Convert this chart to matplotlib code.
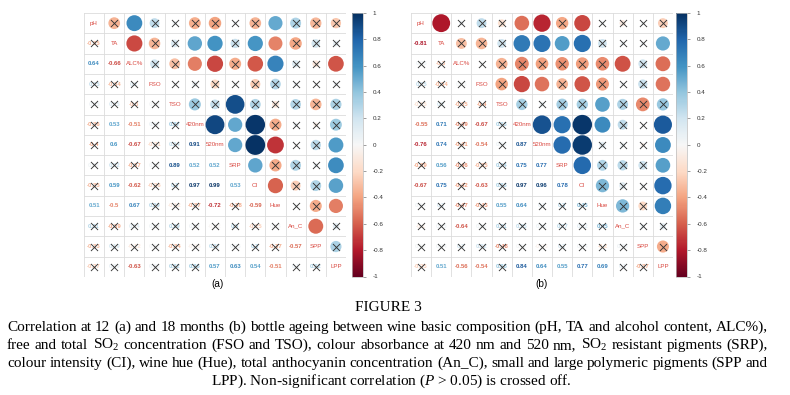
import numpy as np
import matplotlib
matplotlib.use("Agg")
import matplotlib.pyplot as plt
from matplotlib.patches import Circle
from matplotlib.colors import Normalize
from matplotlib.cm import ScalarMappable

plt.rcParams['mathtext.fontset'] = 'custom'
plt.rcParams['mathtext.rm'] = 'Liberation Serif'
plt.rcParams['mathtext.it'] = 'Liberation Serif:italic'

variables = ["pH", "TA", "ALC%", "FSO", "TSO", "420nm", "520nm", "SRP", "CI", "Hue", "An_C", "SPP", "LPP"]

# lower-triangle correlations, row i holds r(i, j) for j < i
corr_12m = [
    [],
    [-0.35],
    [0.64, -0.66],
    [0.25, -0.34, 0.20],
    [0.05, 0.15, -0.30, 0.02],
    [-0.36, 0.53, -0.51, 0.07, 0.37],
    [-0.40, 0.60, -0.67, -0.21, 0.24, 0.91],
    [0.04, 0.22, -0.37, 0.03, 0.89, 0.52, 0.52],
    [-0.35, 0.59, -0.62, -0.26, 0.30, 0.97, 0.99, 0.53],
    [0.51, -0.50, 0.67, 0.29, -0.12, -0.37, -0.72, -0.38, -0.59],
    [0.31, -0.39, 0.14, 0.04, 0.29, 0.05, -0.02, 0.30, -0.25, 0.03],
    [-0.33, 0.19, -0.12, 0.02, -0.34, -0.06, 0.27, 0.05, 0.30, -0.37, -0.57],
    [-0.27, 0.09, -0.63, 0.05, 0.32, 0.36, 0.57, 0.63, 0.54, -0.51, 0.10, 0.32],
]

corr_18m = [
    [],
    [-0.81],
    [0.05, -0.30],
    [0.25, -0.34, 0.03],
    [-0.15, 0.20, -0.35, -0.40],
    [-0.55, 0.71, -0.49, -0.67, 0.33],
    [-0.76, 0.74, -0.41, -0.54, 0.06, 0.87],
    [-0.39, 0.56, -0.46, -0.35, 0.34, 0.75, 0.77],
    [-0.67, 0.75, -0.42, -0.63, 0.33, 0.97, 0.96, 0.78],
    [0.04, 0.20, -0.47, -0.43, 0.55, 0.64, 0.10, 0.30, 0.45],
    [-0.10, 0.05, -0.64, 0.04, 0.31, 0.25, 0.06, 0.27, 0.12, 0.45],
    [0.03, 0.04, 0.20, 0.22, -0.48, 0.02, -0.05, 0.20, 0.04, -0.20, 0.05],
    [-0.25, 0.51, -0.56, -0.54, 0.38, 0.84, 0.64, 0.55, 0.77, 0.69, 0.10, -0.37],
]

r_critical = 0.50  # |r| at P = 0.05

panel_labels = ["(a)", "(b)"]
cbar_ticks = [1, 0.8, 0.6, 0.4, 0.2, 0, -0.2, -0.4, -0.6, -0.8, -1]

caption_title = "FIGURE 3"
caption_lines = [
    "Correlation at 12 (a) and 18 months (b) bottle ageing between wine basic composition (pH, TA and alcohol content, ALC%),",
    "free and total SO$_2$ concentration (FSO and TSO), colour absorbance at 420 nm and 520 nm, SO$_2$ resistant pigments (SRP),",
    "colour intensity (CI), wine hue (Hue), total anthocyanin concentration (An_C), small and large polymeric pigments (SPP and",
    "LPP). Non-significant correlation ($\\mathit{P}$ > 0.05) is crossed off.",
]

W, H = 790, 395
fig = plt.figure(figsize=(W / 100, H / 100), dpi=100)
fig.patch.set_facecolor('white')

cmap = plt.get_cmap('RdBu')
norm = Normalize(-1, 1)
n = len(variables)


def full_matrix(lower):
    m = np.eye(n)
    for i, row in enumerate(lower):
        for j, v in enumerate(row):
            m[i, j] = v
            m[j, i] = v
    return m


def fmt(v):
    s = f"{v:.2f}".rstrip('0').rstrip('.')
    return s


def draw_panel(x0, y0, size_w, size_h, lower, label, label_x, cbx):
    ax = fig.add_axes([x0 / W, 1 - (y0 + size_h) / H, size_w / W, size_h / H])
    m = full_matrix(lower)
    ax.set_xlim(-0.5, n - 0.5)
    ax.set_ylim(n - 0.5, -0.5)
    ax.axis('off')
    for k in range(n + 1):
        ax.plot([k - 0.5, k - 0.5], [-0.5, n - 0.5], color='#dcdcdc', lw=0.6, zorder=0)
        ax.plot([-0.5, n - 0.5], [k - 0.5, k - 0.5], color='#dcdcdc', lw=0.6, zorder=0)
    cross_x, cross_y = [], []
    for i in range(n):
        for j in range(n):
            v = m[i, j]
            if i == j:
                ax.text(j, i, variables[i], ha='center', va='center', color='#d9473f',
                        fontsize=4.4, family='Liberation Sans')
                continue
            col = cmap(norm(v))
            if j > i:
                rad = 0.5 * np.sqrt(abs(v)) * 0.98
                ax.add_patch(Circle((j, i), rad, facecolor=col, edgecolor='none', zorder=2))
            else:
                ax.text(j, i, fmt(v), ha='center', va='center', color=col,
                        fontsize=4.3, family='Liberation Sans', fontweight='bold', zorder=2)
            if abs(v) < r_critical:
                cross_x.append(j)
                cross_y.append(i)
    ax.scatter(cross_x, cross_y, marker='x', s=26, c='#333333', linewidths=0.65, zorder=3)
    fig.text(label_x / W, 1 - 284 / H, label, ha='center', va='center', fontsize=7.2,
             family='Liberation Sans')
    # colorbar
    cax = fig.add_axes([cbx / W, 1 - 276.5 / H, 11 / W, 263.5 / H])
    cb = fig.colorbar(ScalarMappable(norm=norm, cmap=cmap), cax=cax)
    cb.set_ticks(cbar_ticks)
    cb.set_ticklabels([fmt(t) if t != 0 else "0" for t in cbar_ticks])
    cb.outline.set_edgecolor('#bbbbbb')
    cb.outline.set_linewidth(0.5)
    cax.tick_params(labelsize=4.5, length=2, width=0.5, color='#777777',
                    labelcolor='#333333', pad=5)
    for t in cax.get_yticklabels():
        t.set_family('Liberation Sans')
    return ax


draw_panel(84, 13, 262, 264, corr_12m, panel_labels[0], 217, 352)
draw_panel(411, 13, 262, 264, corr_18m, panel_labels[1], 541, 676)

# caption
serif = 'Liberation Serif'
left, right = 7, 768
fig.canvas.draw()
renderer = fig.canvas.get_renderer()
probe = fig.text(0, 0, caption_lines[0], fontsize=10, family=serif)
natural = probe.get_window_extent(renderer).width
probe.remove()
fs = 10 * (right - left - 2) / natural

fig.text(388 / W, 1 - 311 / H, caption_title, ha='center', va='baseline', fontsize=fs, family=serif)

baselines = [331, 349, 367, 385]
for li, (line, yb) in enumerate(zip(caption_lines, baselines)):
    if li == len(caption_lines) - 1:
        fig.text(391 / W, 1 - yb / H, line, ha='center', va='baseline', fontsize=fs, family=serif)
        continue
    words = line.split(' ')
    texts = [fig.text(0, 1 - yb / H, w_, ha='left', va='baseline', fontsize=fs, family=serif)
             for w_ in words]
    widths = [t.get_window_extent(renderer).width for t in texts]
    gap = (right - left - sum(widths)) / (len(words) - 1)
    x = left
    for t, wd in zip(texts, widths):
        t.set_x(x / W)
        x += wd + gap

fig.savefig('out.png', dpi=100, facecolor='white')
